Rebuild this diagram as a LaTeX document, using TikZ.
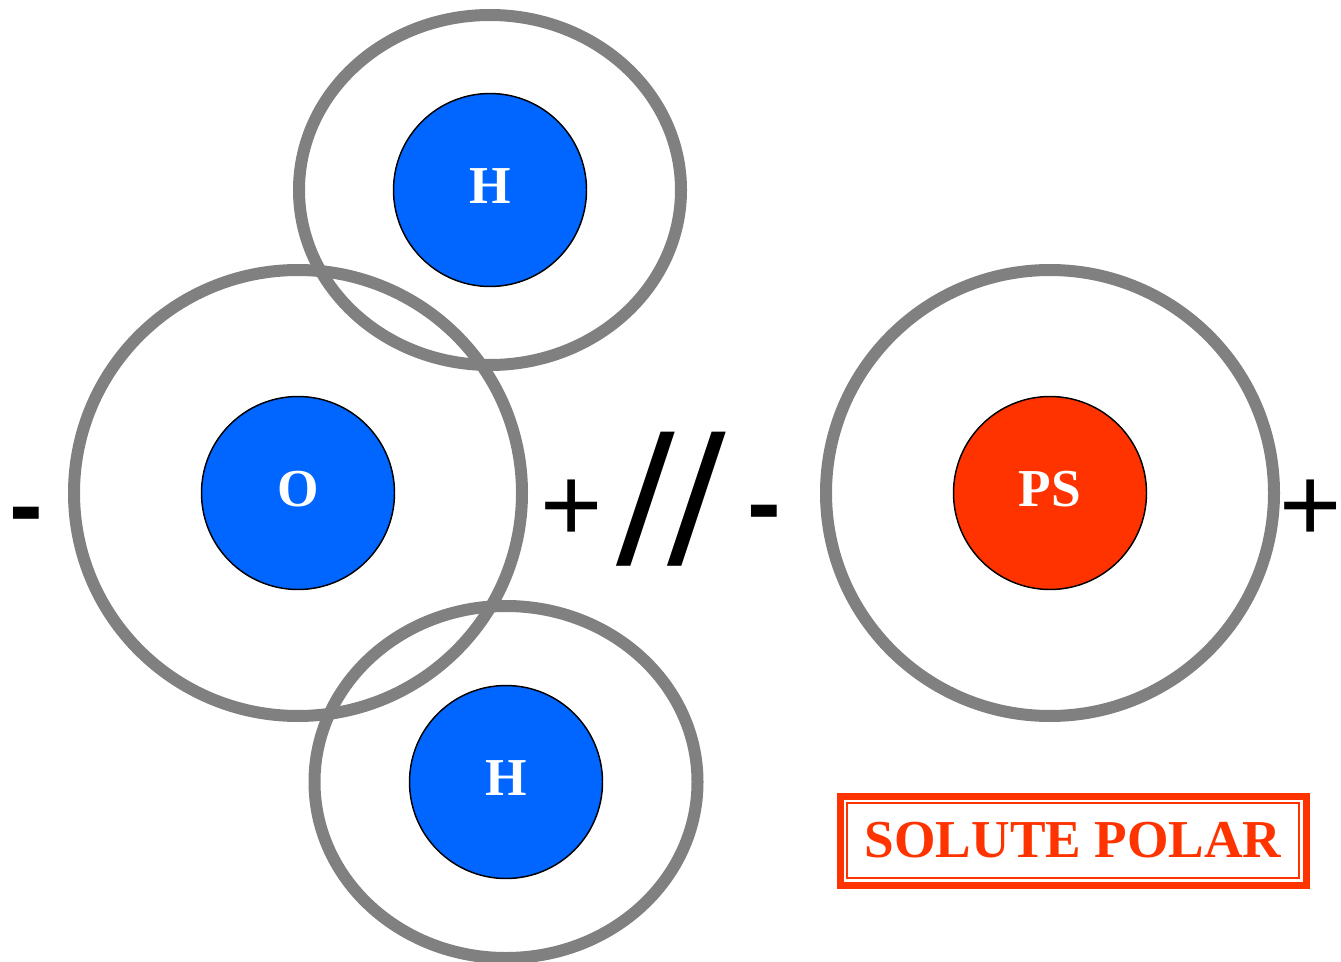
\documentclass[tikz,border=0pt]{standalone}
\usepackage{fontspec}
\setmainfont{Liberation Serif}
\setsansfont{Liberation Sans}
\usetikzlibrary{positioning}
\definecolor{atblue}{HTML}{0066FF}
\definecolor{atred}{HTML}{FF3300}
\definecolor{shgray}{HTML}{808080}
\tikzset{
  atm/.style ={circle, draw=black, line width=1.1pt, minimum size=144.75pt, inner sep=0pt, text=white, text depth=6pt, font=\fontsize{40pt}{48pt}\selectfont\bfseries},
  shl/.style ={draw=shgray, line width=9pt},
  sgn/.style ={inner sep=0pt, font=\sffamily\fontsize{80pt}{90pt}\selectfont},
  msg/.style ={inner sep=0pt, font=\sffamily\bfseries\fontsize{76pt}{86pt}\selectfont},
  brk/.style ={inner sep=0pt, xslant=0.06, font=\sffamily\fontsize{137pt}{150pt}\selectfont},
  sbx/.style ={draw=atred, line width=1.5pt, outer sep=0pt, inner sep=0pt, text=atred, minimum width=339pt, minimum height=56.25pt, font=\fontsize{40pt}{48pt}\selectfont\bfseries},
}
\begin{document}
\begin{tikzpicture}[x=0.75pt, y=-0.75pt]
  \useasboundingbox (0,0) rectangle (1341,962);
  % atoms
  \node[atm, fill=atblue] (h1) at (490,190) {H};
  \node[atm, fill=atblue] (o) at (298,493) {O};
  \node[atm, fill=atblue] (h2) at (506,782) {H};
  \node[atm, fill=atred] (ps) at (1050,493) {PS};
  % shells
  \draw[shl] (h1.center) ellipse [x radius=191, y radius=175];
  \draw[shl] (o.center) ellipse [x radius=224, y radius=223];
  \draw[shl] (h2.center) ellipse [x radius=191.5, y radius=176];
  \draw[shl] (ps.center) ellipse [x radius=224, y radius=223];
  % poles
  \node[msg] (mL) at (26,523) {-};
  \node[sgn] (pL) at (571.5,511) {+};
  \node[brk] (sl) at (671.5,499) {//};
  \node[msg] (mR) at (764,521) {-};
  \node[sgn] (pR) at (1311,511) {+};
  % label box
  \node[sbx] (sp) at (1073,840.5) {SOLUTE POLAR};
  \draw[draw=atred, line width=5.25pt] ([xshift=-5.25pt,yshift=5.25pt]sp.north west) rectangle ([xshift=5.25pt,yshift=-5.25pt]sp.south east);
\end{tikzpicture}
\end{document}
